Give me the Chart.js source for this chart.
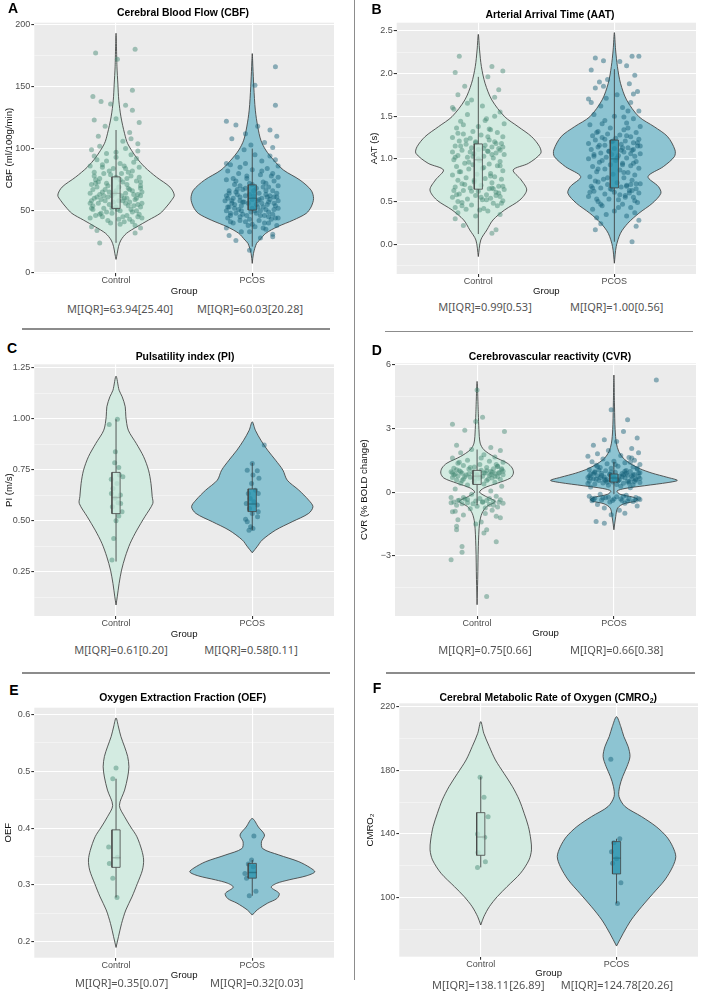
<!DOCTYPE html>
<html lang="en">
<head>
<meta charset="UTF-8">
<title>Cerebral haemodynamics: Control vs PCOS</title>
<script src="https://cdn.jsdelivr.net/npm/chart.js"></script>
<style>
  body { margin:0; width:702px; height:996px; background:#fff; position:relative; overflow:hidden;
         font-family:'Liberation Sans', Arial, sans-serif; }
  canvas { position:absolute; }
  .letter { position:absolute; font-weight:bold; font-size:14px; line-height:14px; color:#000; }
  .title { position:absolute; width:360px; text-align:center; font-weight:bold; font-size:10.4px; line-height:12px; color:#000; white-space:nowrap; }
  .title sub { font-size:7px; vertical-align:-2px; line-height:0; }
  .iqr { position:absolute; width:180px; text-align:center; font-family:'Noto Sans', sans-serif; font-size:11px; line-height:14px; color:#555; }
  .rule { position:absolute; background:#8c8c8c; }
</style>
</head>
<body>
<div class="rule" style="left:353.5px;top:0;width:1.5px;height:980px"></div>
<div class="rule" style="left:22px;top:328px;width:308px;height:1.5px"></div>
<div class="rule" style="left:385px;top:330.5px;width:308px;height:1.5px"></div>
<div class="rule" style="left:22px;top:672px;width:308px;height:1.5px"></div>
<div class="rule" style="left:386px;top:672px;width:309px;height:1.5px"></div>

<script>
const GROUPS = ['Control', 'PCOS'];

// ---------- A: CBF ----------
const cbfTicks = [0, 50, 100, 150, 200];
const cbfIqr = ['M[IQR]=63.94[25.40]', 'M[IQR]=60.03[20.28]'];
const cbfCtrlY = [10.7, 15.6, 21, 26.3, 31.7, 37, 42.4, 47.8, 53, 58, 62.5, 69, 77, 85, 93, 104, 112, 125.6, 139, 152, 166, 193];
const cbfCtrlW = [0, 0.02, 0.04, 0.08, 0.17, 0.34, 0.53, 0.72, 0.82, 0.9, 0.95, 0.88, 0.66, 0.47, 0.33, 0.19, 0.14, 0.08, 0.045, 0.03, 0.015, 0];
const cbfPcosY = [7.5, 15.6, 23.6, 26.3, 31.7, 37, 42.4, 47.8, 53, 59.8, 66.5, 74.6, 82.7, 90.7, 98.8, 106.8, 117.5, 131, 149.8, 166, 176.6];
const cbfPcosW = [0, 0.02, 0.07, 0.12, 0.22, 0.41, 0.67, 0.88, 0.96, 1.0, 0.96, 0.78, 0.51, 0.35, 0.22, 0.14, 0.09, 0.05, 0.025, 0.01, 0];
const cbfCtrlBox = [24, 51.8, 63.9, 77.2, 115];
const cbfPcosBox = [21, 50.5, 60.0, 70.8, 100];
const cbfCtrlPts = [
  [-0.15,177],[0.14,180],[0.01,172],[0.12,147],[-0.17,142],[-0.11,138],[-0.04,136],[0.07,135],[0.12,131],[-0.16,123],
  [0.0,124],[0.17,121],[-0.08,118],[0.1,113],[-0.13,110],[0.05,106],[0.16,104],
  [-0.12,24],[-0.14,34],[0.14,32],[0.18,36],[-0.18,37],[0.03,39],[0.12,41],[-0.06,42],
  [-0.19,44],[-0.1,45],[0.08,46],[0.17,47],[-0.03,48],[0.12,49],[-0.15,46],[0.02,43],[0.19,44],[-0.07,49],[0.06,41],
  [-0.17,51],[-0.09,52],[0.0,53],[0.09,54],[0.16,55],[-0.13,56],[-0.02,57],[0.05,58],[0.14,59],[-0.18,58],[0.11,51],
  [-0.05,55],[0.18,53],[-0.11,59],[0.03,50],[0.07,56],
  [-0.16,60],[-0.06,61],[0.04,62],[0.13,63],[-0.19,64],[-0.1,65],[0.0,66],[0.1,67],[0.18,68],[-0.14,69],[-0.03,62],
  [0.07,64],[0.15,60],[-0.08,67],[0.02,69],[0.19,65],[-0.12,63],
  [-0.18,71],[-0.07,72],[0.05,73],[0.15,74],[-0.12,76],[0.0,77],[0.11,78],[-0.04,79],[0.18,70],[-0.15,75],[0.08,76],
  [-0.16,81],[-0.05,82],[0.07,84],[0.17,85],[-0.1,87],[0.03,88],[0.13,89],[-0.19,86],[0.09,81],
  [-0.14,91],[0.0,93],[0.11,95],[-0.07,96],[0.16,98],[-0.18,99],
  [-0.12,47],[0.05,45],[0.15,50],[-0.17,54],[0.01,51],[0.1,57],[-0.08,58],[0.19,56],[-0.14,61],[0.06,60],
  [-0.01,64],[0.12,66],[-0.17,67],[0.16,63],[-0.06,70],[0.08,71],[-0.13,73],[0.03,75],[0.17,77],[-0.09,80],
  [0.12,82],[-0.02,84],[-0.16,78],[0.06,86],[0.18,62],[-0.11,48],[0.1,43],[-0.04,40],[0.14,38],[-0.18,52],
  [0.02,58],[0.09,68],[-0.15,72],[0.04,80],[-0.07,90],[0.15,92],[-0.12,102],[0.07,100],[-0.19,56],[0.13,54],
  [-0.05,65],[0.18,73],[-0.1,85],[0.0,97],[0.11,108],[-0.16,94],[0.08,60],[-0.03,52],[0.16,45],[-0.09,62]
];
const cbfPcosPts = [
  [0.17,166],[0.02,151],[0.17,135],[-0.19,122],[-0.12,119],[0.04,118],[0.13,115],[-0.05,112],[0.18,110],[-0.15,108],
  [0.09,105],[-0.01,103],[0.15,101],
  [-0.02,18],[-0.12,26],[0.06,28],[-0.17,30],[0.15,31],[-0.08,33],[0.1,35],[-0.19,36],[0.02,37],[0.18,38],
  [-0.14,40],[-0.05,41],[0.05,42],[0.14,43],[-0.18,44],[-0.09,45],[0.0,39],[0.09,40],[0.19,44],[-0.02,43],[0.12,45],
  [-0.16,46],[-0.07,47],[0.03,48],[0.12,49],[-0.19,50],[-0.1,51],[0.0,52],[0.08,53],[0.17,54],[-0.13,55],[-0.04,46],
  [0.06,50],[0.15,47],[-0.17,53],[0.1,51],[-0.01,49],[0.19,52],[-0.08,54],
  [-0.15,56],[-0.06,57],[0.04,58],[0.13,59],[-0.18,60],[-0.09,61],[0.01,62],[0.1,63],[0.18,64],[-0.12,65],[-0.03,56],
  [0.07,60],[0.16,61],[-0.2,58],[0.0,59],[0.12,57],[-0.11,63],[0.05,64],[-0.05,62],
  [-0.17,66],[-0.07,67],[0.03,68],[0.12,69],[0.19,70],[-0.13,71],[-0.02,72],[0.08,73],[0.16,74],[-0.19,75],[0.1,66],[-0.09,70],
  [-0.14,76],[-0.04,78],[0.06,79],[0.15,80],[-0.18,82],[0.0,83],[0.11,84],[-0.09,85],[0.19,77],
  [-0.16,87],[-0.05,88],[0.07,90],[0.17,91],[-0.11,93],[0.02,95],
  [-0.12,48],[0.06,46],[0.16,51],[-0.18,53],[0.02,50],[0.11,55],[-0.07,57],[0.19,58],[-0.14,60],[0.05,59],
  [-0.02,63],[0.13,62],[-0.17,64],[0.15,66],[-0.05,68],[0.08,69],[-0.13,52],[0.03,55],[0.17,44],[-0.09,42],
  [0.12,40],[-0.03,38],[-0.16,48],[0.07,56],[0.18,61],[-0.11,67],[0.1,72],[-0.04,76],[0.14,78],[-0.19,62],
  [0.01,66],[0.09,46],[-0.15,58],[0.04,53],[-0.08,50],[0.16,56],[-0.12,74],[0.07,82],[-0.19,88],[0.13,94],
  [-0.06,99],[0.19,86],[-0.1,80],[0.0,71],[0.11,61],[-0.16,41],[0.08,36],[-0.02,33],[0.15,29],[-0.09,58]
];

// ---------- B: AAT ----------
const aatTicks = [0, 0.5, 1, 1.5, 2, 2.5];
const aatIqr = ['M[IQR]=0.99[0.53]', 'M[IQR]=1.00[0.56]'];
const aatCtrlY = [-0.144, 0.05, 0.168, 0.285, 0.402, 0.519, 0.636, 0.753, 0.87, 0.948, 1.065, 1.143, 1.26, 1.377, 1.494, 1.69, 1.885, 2.08, 2.275, 2.458];
const aatCtrlW = [0, 0.04, 0.14, 0.24, 0.43, 0.68, 0.79, 0.7, 0.57, 0.82, 1.02, 1.0, 0.87, 0.65, 0.43, 0.22, 0.11, 0.05, 0.02, 0];
const aatPcosY = [-0.222, -0.027, 0.129, 0.246, 0.363, 0.48, 0.597, 0.675, 0.792, 0.909, 1.026, 1.104, 1.26, 1.377, 1.494, 1.69, 1.885, 2.08, 2.275, 2.478];
const aatPcosW = [0, 0.03, 0.1, 0.22, 0.4, 0.62, 0.76, 0.72, 0.55, 0.8, 0.98, 0.99, 0.87, 0.65, 0.4, 0.2, 0.1, 0.05, 0.02, 0];
const aatCtrlBox = [0.12, 0.645, 0.99, 1.175, 1.96];
const aatPcosBox = [0.03, 0.66, 1.0, 1.22, 2.05];
const aatCtrlPts = [
  [-0.14,2.2],[-0.17,2.01],[0.1,2.08],[0.18,2.03],[0.07,1.96],[-0.1,1.85],[0.15,1.81],[-0.15,1.75],[-0.05,1.69],[0.12,1.72],
  [0.03,1.62],[-0.18,1.58],[0.16,1.55],[-0.08,1.52],[0.06,1.47],[-0.13,1.44],[0.19,1.41],[0.0,1.38],
  [-0.16,1.36],[0.09,1.34],[-0.04,1.32],[0.14,1.31],[-0.11,1.29],[0.02,1.28],[0.18,1.26],[-0.19,1.25],[-0.06,1.24],[0.08,1.22],[-0.14,1.21],
  [0.12,1.2],[-0.02,1.19],[0.17,1.18],[-0.09,1.17],[0.05,1.16],[-0.17,1.15],[0.1,1.14],[-0.05,1.13],[0.15,1.12],[0.0,1.11],
  [-0.12,1.1],[0.07,1.09],[-0.19,1.08],[0.13,1.07],[-0.03,1.06],[0.19,1.05],[-0.15,1.04],[0.04,1.03],[-0.08,1.02],[0.11,1.01],
  [-0.18,0.99],[0.01,0.98],[0.16,0.97],[-0.1,0.95],[0.08,0.94],[-0.04,0.93],[0.14,0.92],[-0.16,0.91],
  [0.03,0.89],[-0.07,0.88],[0.18,0.86],[-0.13,0.85],[0.09,0.83],[-0.01,0.82],[-0.19,0.81],
  [0.12,0.79],[-0.09,0.78],[0.05,0.77],[0.17,0.76],[-0.15,0.75],[-0.03,0.73],[0.1,0.72],[-0.12,0.71],
  [0.02,0.69],[0.15,0.68],[-0.17,0.67],[-0.06,0.66],[0.08,0.65],[0.19,0.64],[-0.11,0.63],[0.0,0.62],[0.13,0.61],
  [-0.14,0.59],[0.06,0.58],[-0.02,0.57],[0.16,0.56],[-0.19,0.55],[0.09,0.54],[-0.08,0.53],[0.03,0.52],[0.18,0.51],
  [-0.12,0.49],[0.11,0.48],[-0.05,0.46],[0.14,0.45],[-0.17,0.43],[0.04,0.42],[-0.09,0.41],
  [0.07,0.39],[-0.15,0.37],[0.16,0.35],[-0.02,0.33],
  [-0.17,0.3],[-0.11,0.22],[0.1,0.13],[0.13,0.17],
  [-0.13,1.15],[0.04,1.12],[0.16,1.1],[-0.06,1.08],[0.1,1.05],[-0.17,1.02],[0.0,1.0],[0.13,1.18],[-0.09,1.22],[0.07,1.26],
  [-0.15,1.3],[0.18,1.14],[-0.02,1.2],[0.08,1.35],[-0.11,1.4],[0.15,0.6],[-0.05,0.62],[0.11,0.65],[-0.16,0.58],[0.02,0.55],
  [0.18,0.68],[-0.1,0.7],[0.06,0.52],[-0.18,0.63],[0.13,0.57],[-0.03,0.75],[0.09,0.8],[-0.14,0.85],[0.04,0.9],[-0.07,0.96],
  [0.17,0.48],[-0.12,0.45],[0.01,0.4],[0.12,1.5],[-0.19,1.6],[0.05,1.45],[-0.08,1.65],[0.16,0.92],[-0.04,1.03],[0.1,0.66],
  [-0.15,0.5],[0.07,1.09]
];
const aatPcosPts = [
  [-0.14,2.18],[-0.08,2.15],[0.04,2.14],[0.13,2.2],[0.18,2.2],[0.09,2.09],[-0.17,2.04],[0.15,1.98],[-0.05,1.93],[0.11,1.88],
  [-0.14,1.83],[-0.08,1.85],[0.17,1.79],[0.02,1.75],[-0.19,1.7],[0.12,1.66],[-0.1,1.62],[0.06,1.6],[0.18,1.56],
  [-0.15,1.52],[0.0,1.5],[0.14,1.47],[-0.07,1.45],[0.09,1.42],[-0.18,1.4],[0.19,1.38],[-0.03,1.36],[0.07,1.34],[-0.12,1.32],
  [0.16,1.31],[-0.05,1.29],[0.04,1.28],[-0.16,1.27],[0.12,1.26],
  [-0.09,1.25],[0.01,1.24],[0.18,1.23],[-0.14,1.22],[0.08,1.21],[-0.02,1.2],[0.14,1.19],[-0.19,1.18],[0.05,1.17],[-0.07,1.16],
  [0.17,1.15],[-0.12,1.14],[0.1,1.13],[0.0,1.12],[-0.17,1.11],
  [0.13,1.1],[-0.04,1.09],[0.07,1.08],[-0.1,1.07],[0.19,1.06],[-0.15,1.05],[0.03,1.04],[0.15,1.03],[-0.06,1.02],[0.09,1.01],[-0.19,1.0],
  [0.01,0.98],[0.16,0.97],[-0.11,0.96],[0.06,0.95],[-0.03,0.93],[0.12,0.92],[-0.16,0.91],[0.18,0.89],[-0.07,0.88],[0.04,0.87],
  [-0.13,0.85],[0.1,0.84],
  [-0.01,0.82],[0.15,0.81],[-0.18,0.79],[0.07,0.78],[-0.08,0.76],[0.13,0.75],[-0.14,0.74],[0.02,0.72],[0.19,0.71],[-0.05,0.7],
  [0.09,0.69],[-0.17,0.68],[0.05,0.67],[-0.1,0.66],[0.16,0.65],[-0.02,0.64],[0.11,0.63],[-0.15,0.62],[0.0,0.61],[0.18,0.6],[-0.07,0.59],
  [0.08,0.57],[-0.19,0.56],[0.14,0.55],[-0.04,0.53],[0.03,0.52],[-0.12,0.5],[0.17,0.49],[0.06,0.47],[-0.09,0.45],
  [0.12,0.43],[-0.16,0.41],[0.0,0.39],[0.15,0.37],[-0.06,0.35],[0.09,0.33],[-0.13,0.31],[0.18,0.28],[-0.1,0.24],[0.16,0.21],
  [-0.14,0.17],[0.13,0.03],
  [-0.11,1.16],[0.06,1.13],[0.14,1.11],[-0.04,1.09],[0.12,1.06],[-0.15,1.03],[0.02,1.01],[0.17,1.19],[-0.07,1.23],[0.09,1.27],
  [-0.13,1.31],[0.19,1.15],[-0.01,1.21],[0.1,1.36],[-0.09,1.41],[0.13,0.63],[-0.03,0.65],[0.09,0.68],[-0.18,0.61],[0.04,0.58],
  [0.16,0.71],[-0.12,0.73],[0.08,0.55],[-0.16,0.66],[0.11,0.6],[-0.05,0.78],[0.07,0.84],[-0.12,0.88],[0.06,0.93],[-0.09,0.98],
  [0.15,0.51],[-0.1,0.47],[0.03,0.43],[0.1,1.56],[-0.17,1.66],[0.07,1.49],[-0.06,1.71],[0.14,0.95],[-0.02,1.05],[0.12,0.7],
  [-0.13,0.53],[0.05,1.1],[0.14,1.76],[-0.11,1.9]
];

// ---------- C: PI ----------
const piTicks = [0.25, 0.5, 0.75, 1, 1.25];
const piIqr = ['M[IQR]=0.61[0.20]', 'M[IQR]=0.58[0.11]'];
const piCtrlY = [0.087, 0.127, 0.192, 0.258, 0.323, 0.389, 0.454, 0.52, 0.585, 0.618, 0.683, 0.748, 0.814, 0.879, 0.944, 1.01, 1.059, 1.108, 1.14, 1.209];
const piCtrlW = [0, 0.02, 0.05, 0.09, 0.15, 0.23, 0.34, 0.47, 0.6, 0.59, 0.57, 0.53, 0.45, 0.33, 0.2, 0.16, 0.15, 0.1, 0.05, 0];
const piPcosY = [0.343, 0.373, 0.405, 0.454, 0.495, 0.536, 0.569, 0.601, 0.65, 0.699, 0.748, 0.797, 0.846, 0.895, 0.944, 0.985];
const piPcosW = [0, 0.08, 0.16, 0.38, 0.65, 0.92, 0.99, 0.92, 0.76, 0.57, 0.5, 0.38, 0.25, 0.14, 0.05, 0];
const piCtrlBox = [0.30, 0.535, 0.614, 0.737, 0.997];
const piPcosBox = [0.454, 0.545, 0.582, 0.656, 0.784];
const piCtrlPts = [
  [-0.05,0.972],[0.01,0.997],[-0.005,0.838],[-0.01,0.784],[0.02,0.761],[0.05,0.716],[-0.035,0.703],[0.007,0.683],
  [-0.022,0.658],[-0.034,0.634],[0.032,0.626],[0.015,0.588],[0.034,0.585],[-0.027,0.569],[0.044,0.544],[0.02,0.523],
  [0.0,0.5],[-0.017,0.413],[-0.03,0.307],[0.025,0.724],[-0.007,0.61]
];
const piPcosPts = [
  [0.088,0.871],[0.0,0.781],[-0.037,0.748],[0.037,0.745],[0.005,0.724],[0.049,0.708],[-0.005,0.683],[0.024,0.65],
  [-0.029,0.634],[0.044,0.634],[-0.015,0.609],[0.012,0.593],[-0.044,0.585],[0.037,0.577],[-0.02,0.56],[0.044,0.544],
  [0.0,0.536],[-0.049,0.507],[-0.037,0.495],[0.039,0.52],[-0.012,0.471],[0.005,0.462],[-0.024,0.454]
];

// ---------- D: CVR ----------
const cvrTicks = [-3, 0, 3, 6];
const cvrIqr = ['M[IQR]=0.75[0.66]', 'M[IQR]=0.66[0.38]'];
const cvrCtrlY = [-5.29, -4.1, -2.55, -1.46, -0.99, -0.67, -0.44, -0.2, 0, 0.19, 0.42, 0.66, 0.89, 1.13, 1.36, 1.67, 1.99, 2.3, 2.93, 3.7, 5.2];
const cvrCtrlW = [0, 0.01, 0.02, 0.04, 0.08, 0.16, 0.29, 0.14, 0.04, 0.11, 0.33, 0.54, 0.59, 0.57, 0.49, 0.27, 0.11, 0.05, 0.03, 0.02, 0];
const cvrPcosY = [-1.77, -1.14, -0.75, -0.55, -0.42, -0.33, -0.23, -0.1, 0.05, 0.17, 0.3, 0.45, 0.55, 0.7, 0.89, 1.1, 1.35, 1.6, 1.9, 2.3, 2.93, 4.0, 5.5];
const cvrPcosW = [0, 0.03, 0.06, 0.16, 0.36, 0.38, 0.3, 0.1, 0.05, 0.18, 0.5, 0.88, 1.03, 0.86, 0.62, 0.42, 0.26, 0.15, 0.08, 0.04, 0.02, 0.01, 0];
const cvrCtrlBox = [-0.62, 0.36, 0.75, 1.02, 2.0];
const cvrPcosBox = [-0.1, 0.47, 0.66, 0.85, 1.42];
const cvrCtrlPts = [
  [0.0,4.8],[-0.18,3.19],[0.04,3.52],[-0.01,3.32],[0.2,2.85],[-0.09,2.9],[-0.15,2.2],[0.1,2.1],[-0.04,2.0],[0.17,1.95],
  [-0.12,1.85],[0.05,1.75],[0.13,1.65],[-0.18,1.6],
  [-0.07,1.5],[0.09,1.45],[0.19,1.4],[-0.14,1.35],[0.02,1.3],[-0.1,1.25],[0.15,1.22],[-0.02,1.18],[0.07,1.15],[-0.17,1.12],
  [0.12,1.1],[-0.06,1.08],[0.18,1.05],[0.03,1.03],[-0.13,1.0],
  [0.1,0.98],[-0.19,0.96],[-0.03,0.94],[0.16,0.92],[0.06,0.9],[-0.11,0.89],[0.13,0.87],[-0.16,0.85],[0.0,0.84],[0.19,0.82],
  [-0.08,0.8],[0.09,0.78],[-0.14,0.76],[0.04,0.74],[0.15,0.72],[-0.05,0.7],[-0.18,0.68],[0.11,0.66],[0.01,0.64],[-0.1,0.62],
  [0.17,0.6],[-0.15,0.57],[0.07,0.54],[-0.02,0.5],[0.13,0.46],[-0.12,0.42],[0.05,0.38],[-0.07,0.33],[0.18,0.28],
  [-0.16,0.15],[0.1,0.05],[-0.04,-0.1],[0.14,-0.2],[-0.19,-0.25],[0.02,-0.3],[-0.09,-0.33],[0.17,-0.36],[-0.13,-0.38],
  [0.07,-0.4],[-0.01,-0.42],[0.12,-0.44],[-0.17,-0.46],[0.04,-0.48],[-0.07,-0.5],[0.19,-0.52],[-0.11,-0.55],[0.09,-0.58],
  [-0.15,-0.62],[0.0,-0.66],[0.15,-0.7],[-0.05,-0.78],[0.11,-0.85],[-0.18,-0.92],[0.06,-1.0],[-0.1,-1.08],[0.14,-1.14],
  [-0.14,-1.3],[0.03,-1.4],[-0.15,-1.61],[0.07,-1.77],[-0.15,-1.77],[0.05,-1.92],[0.14,-2.33],[-0.11,-2.55],[-0.11,-2.83],
  [-0.19,-3.18],[0.07,-4.9],
  [-0.12,0.95],[0.05,0.9],[0.16,0.88],[-0.06,0.86],[0.1,0.83],[-0.17,0.8],[0.0,0.78],[0.13,0.75],[-0.09,0.72],[0.07,1.0],
  [-0.15,1.05],[0.18,1.1],[-0.02,0.65],[0.08,0.6],[-0.11,0.55],[0.15,1.2],[-0.05,1.15],[0.11,0.93],[-0.18,0.91],[0.02,0.7],
  [0.19,0.98],[-0.14,-0.4],[0.04,-0.45],[-0.07,-0.35],[0.16,-0.48],[-0.03,-0.55],[0.09,-0.3],[-0.19,-0.5],[0.12,-0.62],
  [-0.1,-0.25],[0.06,-0.75],[-0.16,-0.9],[0.17,-1.2],[-0.01,-1.5],[0.14,1.3],[-0.13,1.4],[0.03,1.6]
];
const cvrPcosPts = [
  [0.31,5.27],[-0.02,3.87],[0.1,3.4],[0.07,2.85],[-0.07,2.46],[0.02,2.38],[0.17,2.54],[-0.15,2.2],[0.13,2.05],[-0.04,1.95],
  [0.18,1.85],[-0.12,1.8],[0.05,1.72],[-0.19,1.68],[0.11,1.62],[-0.08,1.55],[0.15,1.5],[0.0,1.45],[-0.16,1.42],[0.08,1.38],
  [-0.05,1.33],[0.19,1.3],[-0.13,1.26],[0.03,1.22],[0.14,1.18],[-0.1,1.15],[-0.02,1.12],[0.17,1.08],[-0.18,1.05],[0.09,1.02],
  [-0.06,1.0],[0.12,0.97],[-0.14,0.95],[0.01,0.93],[0.19,0.91],[-0.09,0.89],[0.06,0.87],[-0.17,0.85],[0.15,0.83],[-0.03,0.81],
  [0.1,0.79],[-0.12,0.77],[0.04,0.75],[0.18,0.73],[-0.07,0.71],[-0.19,0.69],[0.08,0.67],[0.0,0.65],[-0.15,0.63],[0.13,0.61],
  [-0.05,0.59],[0.16,0.57],[-0.11,0.55],[0.03,0.53],[-0.18,0.51],[0.11,0.49],[-0.01,0.47],[0.19,0.45],[-0.08,0.43],[0.07,0.41],
  [-0.14,0.38],[0.14,0.35],[-0.04,0.32],[0.05,0.28],[-0.17,0.24],[0.12,0.2],
  [-0.1,-0.1],[0.09,-0.15],[-0.18,-0.2],[0.02,-0.22],[0.16,-0.25],[-0.06,-0.27],[-0.14,-0.29],[0.11,-0.31],[0.0,-0.33],
  [0.19,-0.35],[-0.09,-0.37],[0.06,-0.39],[-0.16,-0.41],[0.14,-0.44],[-0.03,-0.47],[0.08,-0.52],[-0.12,-0.58],[0.17,-0.65],
  [-0.07,-0.75],[0.04,-0.85],[0.08,-0.99],[-0.02,-1.06],[-0.13,-1.38],[-0.07,-1.46],
  [-0.13,0.6],[0.04,0.58],[0.16,0.62],[-0.06,0.55],[0.1,0.52],[-0.17,0.66],[0.0,0.7],[0.13,0.74],[-0.09,0.78],[0.07,0.82],
  [-0.15,0.86],[0.18,0.9],[-0.02,0.94],[0.08,0.98],[-0.11,1.04],[0.15,0.5],[-0.05,0.46],[0.11,0.42],[-0.19,0.4],[0.02,0.36],
  [0.19,0.64],[-0.1,0.68],[0.06,0.72],[-0.18,0.76],[0.14,0.8],[-0.03,0.84],[0.09,0.88],[-0.14,0.92],[0.03,0.56],[-0.07,0.6],
  [0.17,1.12],[-0.12,1.2],[0.01,1.3],[0.12,1.4],[-0.16,-0.3],[0.05,-0.32],[-0.08,-0.28],[0.16,-0.38],[-0.04,-0.24],
  [0.1,-0.42],[-0.15,-0.36],[0.07,-0.2],[0.18,-0.3],[-0.01,-0.4],[0.13,1.6]
];

// ---------- E: OEF ----------
const oefTicks = [0.2, 0.3, 0.4, 0.5, 0.6];
const oefIqr = ['M[IQR]=0.35[0.07]', 'M[IQR]=0.32[0.03]'];
const oefCtrlY = [0.19, 0.209, 0.232, 0.256, 0.279, 0.303, 0.326, 0.344, 0.361, 0.385, 0.402, 0.42, 0.44, 0.467, 0.49, 0.508, 0.526, 0.543, 0.561, 0.578, 0.594];
const oefCtrlW = [0, 0.04, 0.09, 0.16, 0.26, 0.35, 0.43, 0.45, 0.42, 0.34, 0.24, 0.14, 0.055, 0.14, 0.19, 0.21, 0.19, 0.14, 0.08, 0.04, 0];
const oefPcosY = [0.247, 0.256, 0.268, 0.276, 0.285, 0.296, 0.303, 0.309, 0.316, 0.323, 0.33, 0.341, 0.353, 0.364, 0.376, 0.388, 0.402, 0.417];
const oefPcosW = [0, 0.08, 0.25, 0.4, 0.44, 0.31, 0.4, 0.6, 0.88, 1.02, 0.95, 0.76, 0.43, 0.17, 0.15, 0.2, 0.1, 0];
const oefCtrlBox = [0.278, 0.331, 0.348, 0.397, 0.487];
const oefPcosBox = [0.281, 0.312, 0.322, 0.338, 0.344];
const oefCtrlPts = [[0.0,0.506],[-0.024,0.487],[-0.054,0.367],[-0.049,0.338],[-0.024,0.312],[0.007,0.278],[0.01,0.349]];
const oefPcosPts = [[0.012,0.386],[-0.005,0.344],[-0.029,0.337],[-0.054,0.32],[-0.042,0.312],[0.027,0.289],[-0.022,0.281],[0.007,0.332]];

// ---------- F: CMRO2 ----------
const cmroTicks = [100, 140, 180, 220];
const cmroIqr = ['M[IQR]=138.11[26.89]', 'M[IQR]=124.78[20.26]'];
const cmroCtrlY = [82.8, 88, 94.3, 100.6, 106.9, 115.3, 123.7, 130, 136.2, 144.6, 153, 161.4, 169.7, 178.1, 186.5, 194.9, 203.2, 210.6];
const cmroCtrlW = [0, 0.05, 0.14, 0.27, 0.43, 0.65, 0.79, 0.83, 0.82, 0.78, 0.71, 0.63, 0.52, 0.38, 0.24, 0.14, 0.05, 0];
const cmroPcosY = [69.6, 77.6, 86, 94.3, 102.7, 111.1, 119.5, 125.8, 132, 138.3, 144.6, 150.9, 157.2, 163.5, 169.7, 176, 182.3, 188.6, 194.9, 201.2, 207.4, 213.7];
const cmroPcosW = [0, 0.11, 0.24, 0.41, 0.6, 0.79, 0.92, 0.97, 0.92, 0.82, 0.65, 0.41, 0.14, 0.04, 0.05, 0.1, 0.17, 0.22, 0.19, 0.12, 0.07, 0];
const cmroCtrlBox = [119, 126.6, 138.1, 153.4, 176];
const cmroPcosBox = [96.4, 114.9, 124.8, 135.2, 137];
const cmroCtrlPts = [[-0.005,175.6],[0.024,163],[0.054,150.9],[-0.024,140],[0.029,137.9],[-0.02,128.3],[0.034,122.6],[-0.024,119]];
const cmroPcosPts = [[-0.042,187],[0.024,137],[-0.02,134.5],[-0.037,128.9],[-0.029,121.6],[0.032,109.4],[0.007,96.4],[0.0,124.5]];

// ---------- styling ----------
const VIOLIN_HALF = 0.45;
const BOX_HALF = 0.03;
const VIOLIN_FILL = ['#d3ebe1', '#8dc4d2'];
const POINT_FILL = ['rgba(66,136,114,0.46)', 'rgba(18,94,118,0.46)'];
const BOX_FILL = ['rgba(196,231,218,0.75)', 'rgba(38,145,172,0.75)'];
const OUTLINE = '#3f3f3f';

Chart.defaults.font.family = "'Liberation Sans', Arial, sans-serif";

const panels = [
  {letter: 'A', title: 'Cerebral Blood Flow (CBF)', yTitle: 'CBF (ml/100g/min)', ticks: cbfTicks, dec: 0, min: -0.5, max: 201.5,
   vy: [cbfCtrlY, cbfPcosY], vw: [cbfCtrlW, cbfPcosW], box: [cbfCtrlBox, cbfPcosBox], pts: [cbfCtrlPts, cbfPcosPts], iqr: cbfIqr,
   at: {yt: 10, L: 34.3, T: 22.7, R: 334.3, B: 273.3, g: 291.3}, letterAt: [8, 0.8], titleAt: [183, 13], iqrAt: [[120, 309], [250, 309]]},
  {letter: 'B', title: 'Arterial Arrival Time (AAT)', yTitle: 'AAT (s)', ticks: aatTicks, dec: 1, min: -0.348, max: 2.594,
   vy: [aatCtrlY, aatPcosY], vw: [aatCtrlW, aatPcosW], box: [aatCtrlBox, aatPcosBox], pts: [aatCtrlPts, aatPcosPts], iqr: aatIqr,
   at: {yt: 375, L: 396.7, T: 22.7, R: 696.7, B: 274, g: 291.7}, letterAt: [371.5, 1.5], titleAt: [550, 14.5], iqrAt: [[485, 307], [616.7, 307]]},
  {letter: 'C', title: 'Pulsatility index (PI)', yTitle: 'PI (m/s)', ticks: piTicks, dec: 2, min: 0.033, max: 1.267,
   vy: [piCtrlY, piPcosY], vw: [piCtrlW, piPcosW], box: [piCtrlBox, piPcosBox], pts: [piCtrlPts, piPcosPts], iqr: piIqr,
   at: {yt: 10, L: 34.3, T: 364.3, R: 334.3, B: 616, g: 634}, letterAt: [7, 341.4], titleAt: [185, 356.7], iqrAt: [[121, 650], [251, 650]]},
  {letter: 'D', title: 'Cerebrovascular reactivity (CVR)', yTitle: 'CVR (% BOLD change)', ticks: cvrTicks, dec: 0, min: -5.82, max: 6.05,
   vy: [cvrCtrlY, cvrPcosY], vw: [cvrCtrlW, cvrPcosW], box: [cvrCtrlBox, cvrPcosBox], pts: [cvrCtrlPts, cvrPcosPts], iqr: cvrIqr,
   at: {yt: 365, L: 395, T: 363.3, R: 696.7, B: 616, g: 633.3}, letterAt: [371.7, 343.1], titleAt: [550, 356.7], iqrAt: [[485, 650], [616.7, 650]]},
  {letter: 'E', title: 'Oxygen Extraction Fraction (OEF)', yTitle: 'OEF', ticks: oefTicks, dec: 1, min: 0.172, max: 0.612,
   vy: [oefCtrlY, oefPcosY], vw: [oefCtrlW, oefPcosW], box: [oefCtrlBox, oefPcosBox], pts: [oefCtrlPts, oefPcosPts], iqr: oefIqr,
   at: {yt: 8.3, L: 34.3, T: 707.7, R: 334.3, B: 957.7, g: 975}, letterAt: [9.3, 683.1], titleAt: [182.7, 697.5], iqrAt: [[121.7, 983.5], [256.7, 983.5]]},
  {letter: 'F', title: 'Cerebral Metabolic Rate of Oxygen (CMRO<sub>2</sub>)', yTitle: 'CMRO\u2082', ticks: cmroTicks, dec: 0, min: 62.9, max: 222.1,
   vy: [cmroCtrlY, cmroPcosY], vw: [cmroCtrlW, cmroPcosW], box: [cmroCtrlBox, cmroPcosBox], pts: [cmroCtrlPts, cmroPcosPts], iqr: cmroIqr,
   at: {yt: 370.7, L: 399.3, T: 703.3, R: 698.3, B: 956.7, g: 973.3}, letterAt: [372.7, 681.4], titleAt: [548.3, 697.5], iqrAt: [[488.3, 985], [617, 985]]}
];

const plotBg = {
  id: 'plotBg',
  beforeDraw(chart) {
    const {ctx, chartArea: a} = chart;
    ctx.save();
    ctx.fillStyle = '#ebebeb';
    ctx.fillRect(a.left, a.top, a.right - a.left, a.bottom - a.top);
    ctx.restore();
  }
};

function violinOutline(c, ys, ws) {
  const right = ys.map((y, i) => ({x: c + ws[i] * VIOLIN_HALF, y}));
  const left = ys.slice(0, -1).map((y, i) => ({x: c - ws[i] * VIOLIN_HALF, y})).reverse();
  return right.concat(left);
}

function boxSets(c, s, fill) {
  const [lo, q1, med, q3, hi] = s;
  const seg = (data, w) => ({data, showLine: true, fill: false, borderColor: '#333', borderWidth: w, pointRadius: 0, order: 1});
  return [
    {data: [{x: c - BOX_HALF, y: q1}, {x: c + BOX_HALF, y: q1}, {x: c + BOX_HALF, y: q3}, {x: c - BOX_HALF, y: q3}, {x: c - BOX_HALF, y: q1}],
     showLine: true, fill: 'shape', backgroundColor: fill, borderColor: '#444', borderWidth: 0.8, pointRadius: 0, order: 1},
    seg([{x: c, y: lo}, {x: c, y: q1}], 0.8),
    seg([{x: c, y: q3}, {x: c, y: hi}], 0.8),
    seg([{x: c - BOX_HALF, y: med}, {x: c + BOX_HALF, y: med}], 1.4)
  ];
}

function fmt(v, dec) {
  return v.toFixed(dec).replace('-', '\u2212');
}

function addText(cls, html, left, top) {
  const el = document.createElement('div');
  el.className = cls;
  el.innerHTML = html;
  el.style.left = left + 'px';
  el.style.top = top + 'px';
  document.body.appendChild(el);
}

panels.forEach(p => {
  const a = p.at;
  const cL = Math.round(a.yt - 5.76);
  const cT = Math.floor(a.T - 8);
  const cW = Math.ceil(a.R - cL + 3);
  const cH = Math.round(a.g + 5.76 - cT);
  const yW = a.L - cL;
  const xH = cH - (a.B - cT);
  const padTop = a.T - cT;
  const padRight = cW - (a.R - cL);

  const canvas = document.createElement('canvas');
  canvas.width = cW;
  canvas.height = cH;
  canvas.style.left = cL + 'px';
  canvas.style.top = cT + 'px';
  document.body.appendChild(canvas);

  const step = p.ticks[1] - p.ticks[0];
  const minors = [];
  for (let v = p.ticks[0] - step / 2; v <= p.max; v += step) {
    if (v >= p.min) minors.push(v);
  }

  const datasets = [];
  [1, 2].forEach((c, g) => {
    datasets.push({data: violinOutline(c, p.vy[g], p.vw[g]), showLine: true, fill: 'shape', tension: 0.3,
      backgroundColor: VIOLIN_FILL[g], borderColor: OUTLINE, borderWidth: 0.85, pointRadius: 0, order: 3});
    datasets.push({data: p.pts[g].map(([j, v]) => ({x: c + j, y: v})), showLine: false,
      backgroundColor: POINT_FILL[g], borderWidth: 0, pointRadius: 2.5, order: 2});
    datasets.push(...boxSets(c, p.box[g], BOX_FILL[g]));
  });

  const grid = {color: '#ffffff', lineWidth: 1.1, tickColor: '#333333', tickLength: 3, drawTicks: true};

  new Chart(canvas, {
    type: 'scatter',
    data: {datasets},
    options: {
      responsive: false,
      animation: false,
      devicePixelRatio: 1,
      layout: {padding: {top: padTop, right: padRight, left: 0, bottom: 0}},
      plugins: {legend: {display: false}, tooltip: {enabled: false}},
      scales: {
        x: {
          type: 'linear', min: 0.4, max: 2.6,
          afterBuildTicks: ax => { ax.ticks = [1, 2].map(v => ({value: v})); },
          afterFit: ax => { ax.height = xH; },
          ticks: {callback: v => GROUPS[v - 1], color: '#4d4d4d', font: {size: 9}, padding: -1, maxRotation: 0, autoSkip: false},
          grid: grid,
          border: {display: false},
          title: {display: true, text: 'Group', color: '#111', font: {size: 9.6}, padding: 0}
        },
        y: {
          type: 'linear', position: 'left', min: p.min, max: p.max,
          afterBuildTicks: ax => { ax.ticks = p.ticks.map(v => ({value: v})); },
          afterFit: ax => { ax.width = yW; },
          ticks: {callback: v => fmt(v, p.dec), color: '#4d4d4d', font: {size: 9}, padding: 1},
          grid: grid,
          border: {display: false},
          title: {display: true, text: p.yTitle, color: '#111', font: {size: 9.6}, padding: 0}
        },
        yMinor: {
          type: 'linear', position: 'right', min: p.min, max: p.max,
          afterBuildTicks: ax => { ax.ticks = minors.map(v => ({value: v})); },
          afterFit: ax => { ax.width = 0; },
          ticks: {display: false},
          grid: {color: 'rgba(255,255,255,0.8)', lineWidth: 0.5, drawTicks: false},
          border: {display: false}
        }
      }
    },
    plugins: [plotBg]
  });

  addText('letter', p.letter, p.letterAt[0], p.letterAt[1]);
  addText('title', p.title, p.titleAt[0] - 180, p.titleAt[1] - 6);
  p.iqr.forEach((t, i) => addText('iqr', t, p.iqrAt[i][0] - 90, p.iqrAt[i][1] - 7.3));
});
</script>
</body>
</html>
